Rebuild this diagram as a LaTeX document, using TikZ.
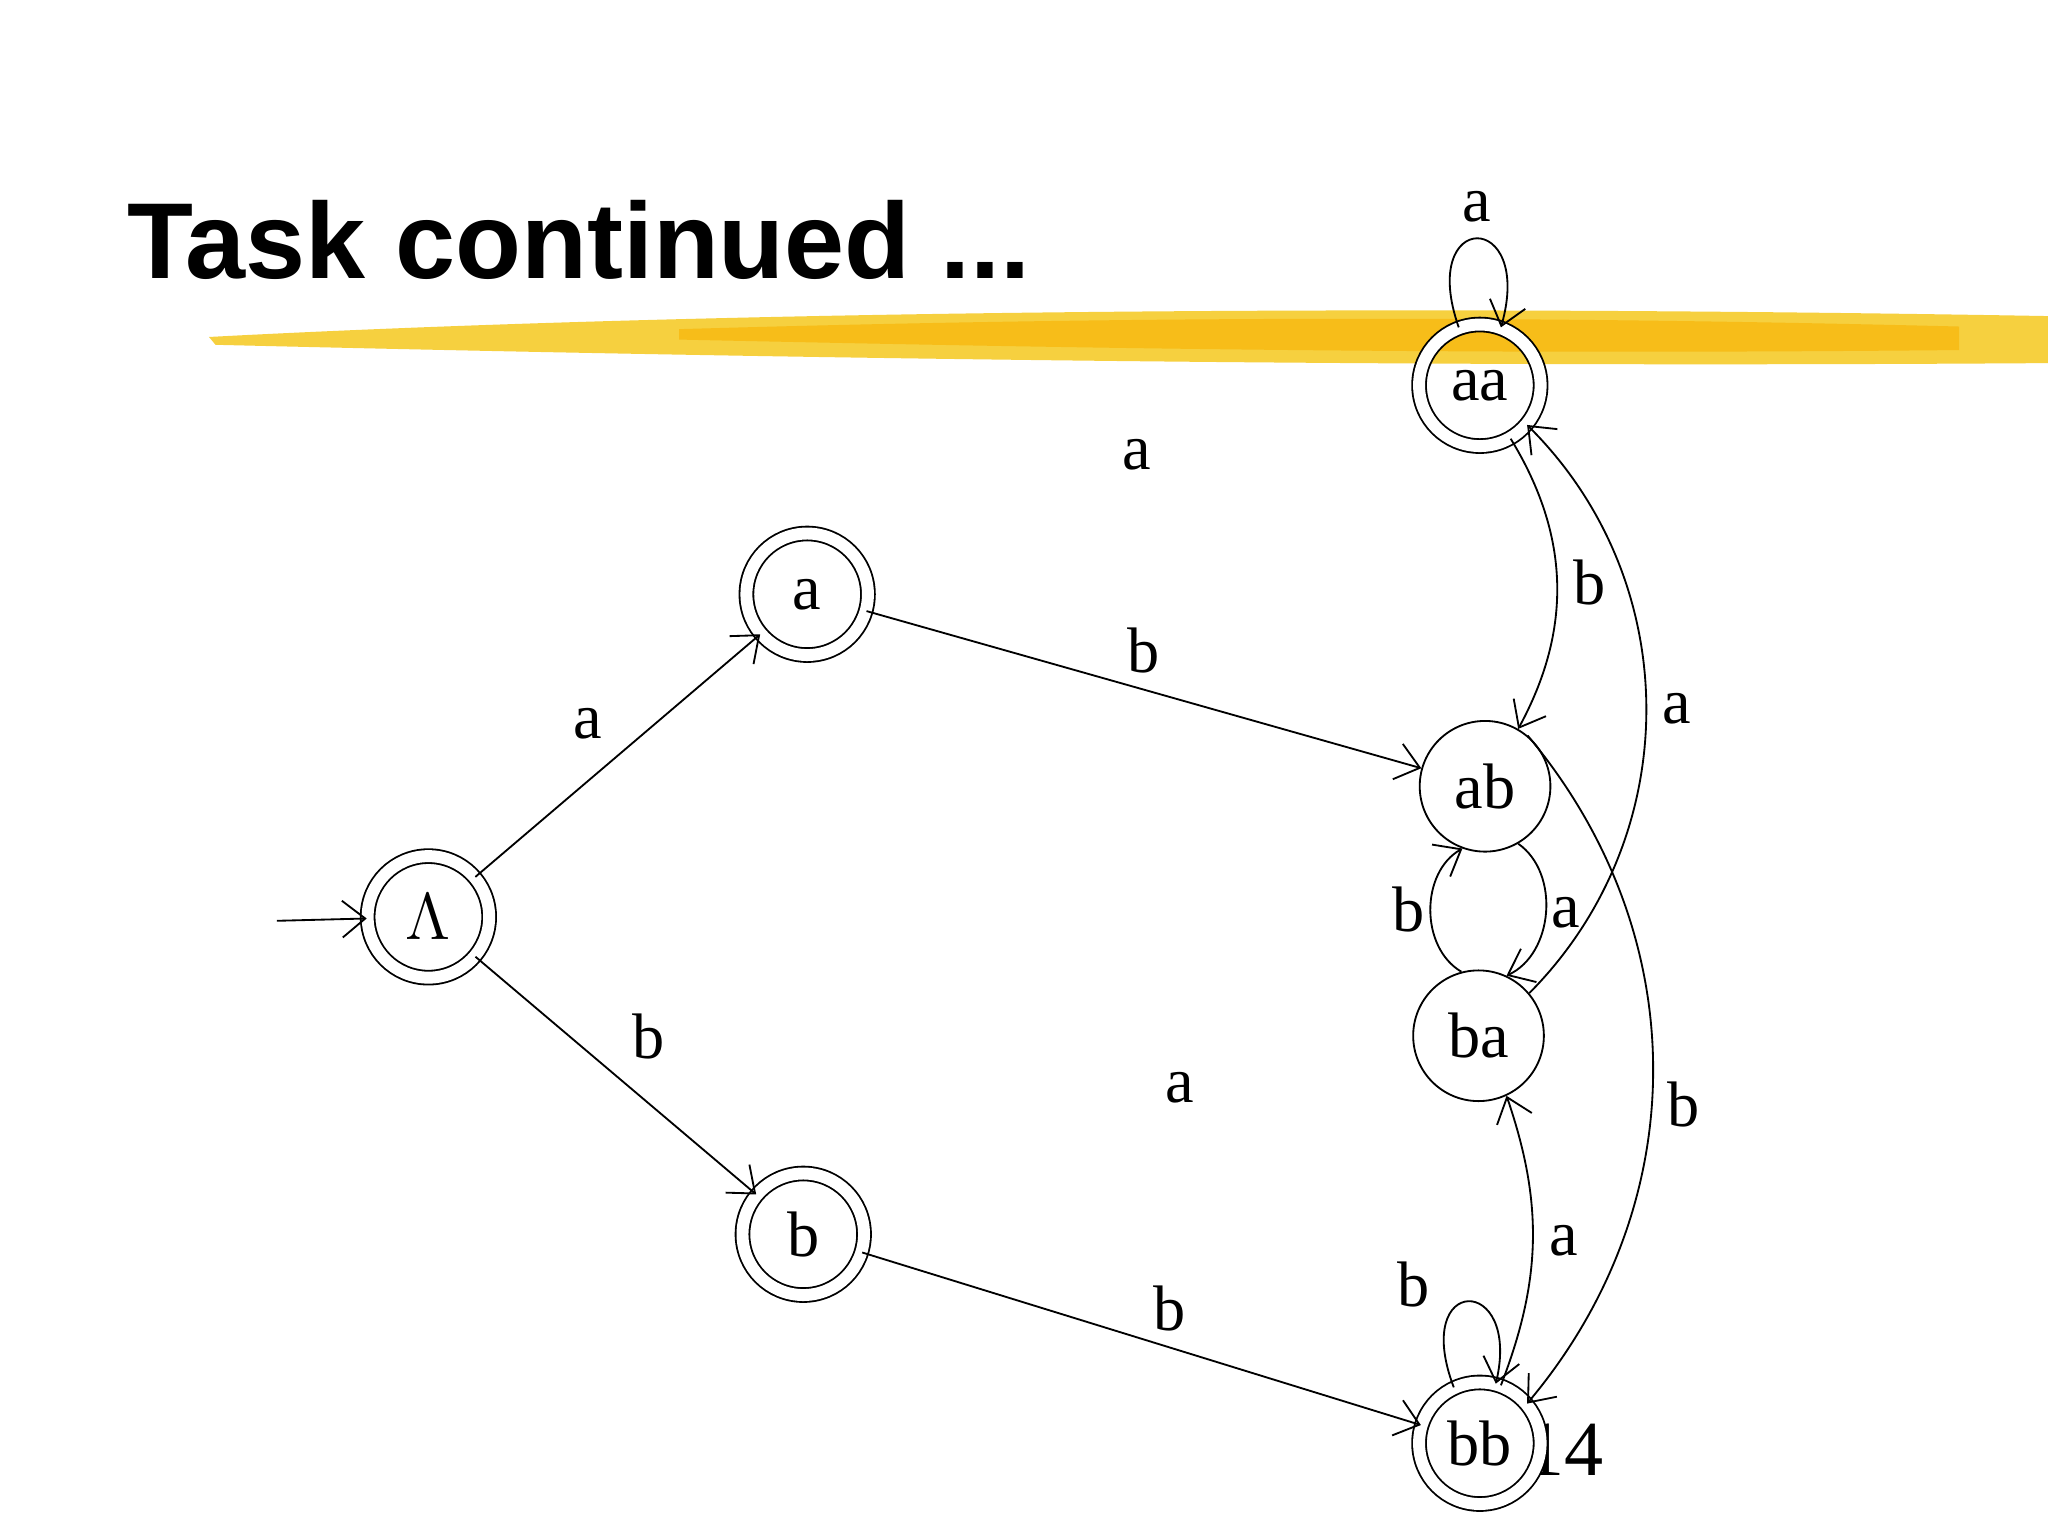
\documentclass[tikz,border=0pt]{standalone}
\usepackage{fontspec}
\setmainfont{Liberation Serif}
\newfontfamily\titlefont{Liberation Sans}
\usetikzlibrary{arrows.meta}
\definecolor{gold}{RGB}{245,200,30}
\begin{document}
\begin{tikzpicture}[x=0.01cm,y=-0.01cm,
  st/.style={circle,draw,minimum size=1cm,inner sep=0pt,font=\fontsize{14}{14}\selectfont},
  acc/.style={st,double,double distance=2.6pt,minimum size=0.93cm},
  tr/.style={-{Straight Barb[length=5pt,width=8pt]},thin},
  lb/.style={font=\fontsize{14}{14}\selectfont}]
\useasboundingbox (0,0) rectangle (1568,1176);
\fill[white] (0,0) rectangle (1568,1176);
% yellow stroke
\fill[gold,opacity=0.85] (160,258) .. controls (500,240) and (1000,232) .. (1568,242) -- (1568,278) .. controls (1000,282) and (500,272) .. (165,264) -- cycle;
\fill[gold!85!orange] (520,252) .. controls (800,244) and (1100,240) .. (1500,250) -- (1500,268) .. controls (1100,272) and (800,266) .. (520,260) -- cycle;
\node[anchor=base west,font=\titlefont\bfseries\fontsize{23.5}{24}\selectfont] (title) at (85,213) {Task continued ...};
\node[lb,font=\fontsize{17}{17}\selectfont] (pg) at (1198,1110) {14};
\node[acc] (L) at (328,702) {$\Lambda$};
\node[acc] (a) at (618,455) {a};
\node[acc] (b) at (615,945) {b};
\node[acc] (aa) at (1133,295) {aa};
\node[st,fill=white] (ab) at (1137,602) {ab};
\node[st] (ba) at (1132,793) {ba};
\node[acc,fill=white] (bb) at (1133,1105) {bb};
\coordinate (s) at (212,705);
\draw[tr] (s) -- (L);
\draw[tr] (L) -- node[lb,above left]{a} (a);
\draw[tr] (L) -- node[lb,above right]{b} (b);
\draw[tr] (a) -- node[lb,above,pos=0.5]{b} (ab);
\draw[tr] (b) -- node[lb,above,pos=0.55]{b} (bb);
\draw[tr] (aa.110) .. controls (1085,160) and (1175,160) .. node[lb,above]{a} (aa.70);
\draw[tr] (bb.115) .. controls (1080,975) and (1165,975) .. node[lb,above left,pos=0.25]{b} (bb.75);
\draw[tr] (aa.-60) to[bend left=30] node[lb,right]{b} (ab.60);
\draw[tr] (ba.40) to[bend right=45] node[lb,right]{a} (aa.-40);
\draw[tr] (ab.50) to[bend left=40] node[lb,right,pos=0.55]{b} (bb.40);
\draw[tr] (bb.70) to[bend right=20] node[lb,right]{a} (ba.-65);
\draw[tr] (ab.-60) to[bend left=60] node[lb,right,inner sep=1pt]{a} (ba.65);
\draw[tr] (ba.105) to[bend left=60] node[lb,left,inner sep=1pt]{b} (ab.-110);
\node[lb] (x1) at (870,348) {a};
\node[lb] (x2) at (903,833) {a};
\end{tikzpicture}
\end{document}
